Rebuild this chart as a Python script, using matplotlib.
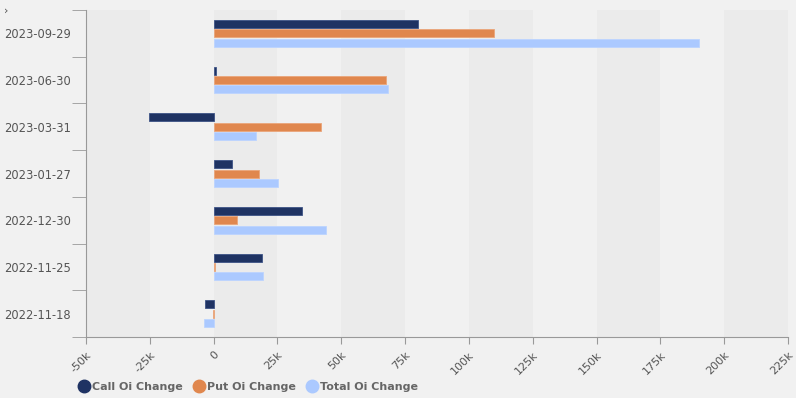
import numpy as np
import matplotlib.pyplot as plt
from matplotlib.lines import Line2D

dates = ['2023-09-29', '2023-06-30', '2023-03-31', '2023-01-27',
         '2022-12-30', '2022-11-25', '2022-11-18']
call_oi = [80000, 1000, -25200, 7300, 34500, 18800, -3200]
put_oi = [109700, 67400, 42000, 17700, 9000, 400, -300]
total_oi = [190000, 68200, 16600, 25100, 43900, 19200, -3600]
xticks = [-50000, -25000, 0, 25000, 50000, 75000, 100000, 125000,
          150000, 175000, 200000, 225000]
xlabels = ['-50k', '-25k', '0', '25k', '50k', '75k', '100k', '125k',
           '150k', '175k', '200k', '225k']

c_call = '#1f3363'
c_put = '#e0874e'
c_total = '#abc9ff'
bg = '#f1f1f1'

fig = plt.figure(figsize=(7.96, 3.98), dpi=100, facecolor=bg)
ax = fig.add_axes([0.108, 0.153, 0.882, 0.822])
ax.set_facecolor(bg)

# alternating vertical bands
for i in range(len(xticks) - 1):
    if i % 2 == 0:
        ax.axvspan(xticks[i], xticks[i + 1], color='#ebebeb', zorder=0, lw=0)

n = len(dates)
y = np.arange(n)[::-1].astype(float)
h = 0.17
off = 0.2
ax.barh(y + off, call_oi, height=h, color=c_call, edgecolor='#3d5386', lw=0.6, zorder=3)
ax.barh(y, put_oi, height=h, color=c_put, edgecolor='#eaa57a', lw=0.6, zorder=3)
ax.barh(y - off, total_oi, height=h, color=c_total, edgecolor='#bcd4ff', lw=0.6, zorder=3)

ax.set_xlim(-50000, 225000)
ax.set_ylim(-0.5, n - 0.5)
ax.set_xticks(xticks)
ax.set_xticklabels(xlabels, rotation=45, ha='right', rotation_mode='anchor',
                   fontsize=8, color='#555555')
ax.tick_params(axis='x', length=5, color='#999999', pad=4)

ax.set_yticks(y)
ax.set_yticklabels(dates, fontsize=8.3, color='#555555')
ax.set_yticks(np.arange(n + 1) - 0.5, minor=True)
ax.tick_params(axis='y', which='major', length=0, pad=11)
ax.tick_params(axis='y', which='minor', length=10, color='#999999')

for s in ['top', 'right']:
    ax.spines[s].set_visible(False)
ax.spines['left'].set_color('#999999')
ax.spines['bottom'].set_color('#999999')

handles = [Line2D([], [], marker='o', ls='', ms=9, color=c) for c in (c_call, c_put, c_total)]
fig.legend(handles, ['Call Oi Change', 'Put Oi Change', 'Total Oi Change'],
           loc='center', bbox_to_anchor=(0.311, 0.028), ncol=3, frameon=False,
           handletextpad=0.1, columnspacing=0.9, handlelength=1.2,
           prop={'size': 8, 'weight': 'bold'}, labelcolor='#666666')

fig.text(0.005, 0.985, '›', fontsize=8, color='#555555', va='top')

fig.savefig('out.png', dpi=100, facecolor=bg)
